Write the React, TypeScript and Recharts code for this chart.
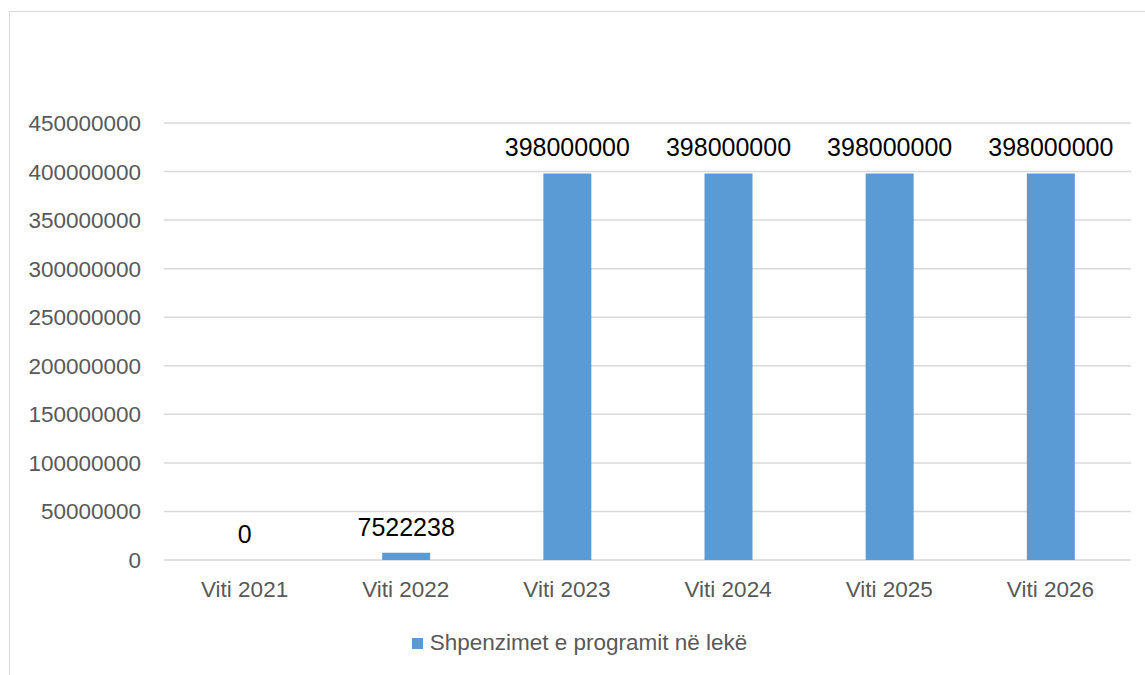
import React from "react";
import { BarChart, Bar, XAxis, YAxis, CartesianGrid, LabelList, ReferenceDot } from "recharts";

const categories = ["Viti 2021", "Viti 2022", "Viti 2023", "Viti 2024", "Viti 2025", "Viti 2026"];
const values = [0, 7522238, 398000000, 398000000, 398000000, 398000000];
const yTicks = [0, 50000000, 100000000, 150000000, 200000000, 250000000, 300000000, 350000000, 400000000, 450000000];
const seriesName = "Shpenzimet e programit në lekë";

const data = categories.map((c, i) => ({ name: c, value: values[i] }));

const FONT = "'Liberation Sans', Arial, sans-serif";
const LABEL_GAP = 17;

const renderLabel = (props: any) => {
  const { x, y, width, value } = props;
  return (
    <text x={x + width / 2} y={y - LABEL_GAP} textAnchor="middle" fill="#000" fontSize={25} fontFamily={FONT}>
      {value}
    </text>
  );
};

const zeroLabel = (value: number) => (props: any) => {
  const vb = props.viewBox || {};
  const cx = vb.x + (vb.width || 0) / 2;
  const cy = vb.y + (vb.height || 0) / 2;
  return (
    <text x={cx} y={cy - LABEL_GAP} textAnchor="middle" fill="#000" fontSize={25} fontFamily={FONT}>
      {value}
    </text>
  );
};

export default function App() {
  return (
    <div style={{ position: "absolute", left: 0, top: 0, width: 1145, height: 675, background: "#fff", fontFamily: FONT }}>
      <div style={{ position: "absolute", left: 9, top: 11, width: 1136, height: 664, borderTop: "1px solid #d9d9d9", borderLeft: "1px solid #d9d9d9" }} />
      <BarChart
        width={1145}
        height={675}
        data={data}
        margin={{ top: 123, right: 14, bottom: 0, left: 14 }}
        style={{ position: "absolute", left: 0, top: 0 }}
      >
        <CartesianGrid vertical={false} stroke="#d9d9d9" strokeWidth={1.5} />
        <YAxis
          width={150}
          domain={[0, 450000000]}
          ticks={yTicks}
          interval={0}
          axisLine={false}
          tickLine={false}
          tickSize={0}
          tickMargin={23}
          tick={{ fill: "#595959", fontSize: 22.5, fontFamily: FONT }}
        />
        <XAxis
          dataKey="name"
          axisLine={false}
          tickLine={false}
          tickSize={0}
          tickMargin={21}
          height={115}
          tick={{ fill: "#595959", fontSize: 22.5, fontFamily: FONT }}
        />
        <Bar dataKey="value" name={seriesName} fill="#5b9bd5" barSize={48} isAnimationActive={false}>
          <LabelList dataKey="value" content={renderLabel} />
        </Bar>
        {data
          .filter((d) => d.value === 0)
          .map((d) => (
            <ReferenceDot
              key={d.name}
              x={d.name}
              y={d.value}
              r={0}
              fill="none"
              stroke="none"
              label={zeroLabel(d.value)}
            />
          ))}
      </BarChart>
      <div style={{ position: "absolute", left: 0, top: 630, width: 1145, display: "flex", justifyContent: "center", alignItems: "center", fontFamily: FONT, fontSize: 22.5, color: "#595959", paddingLeft: 14, boxSizing: "border-box" }}>
        <span style={{ display: "inline-block", width: 11, height: 11, background: "#5b9bd5", marginRight: 7 }} />
        <span>{seriesName}</span>
      </div>
    </div>
  );
}
